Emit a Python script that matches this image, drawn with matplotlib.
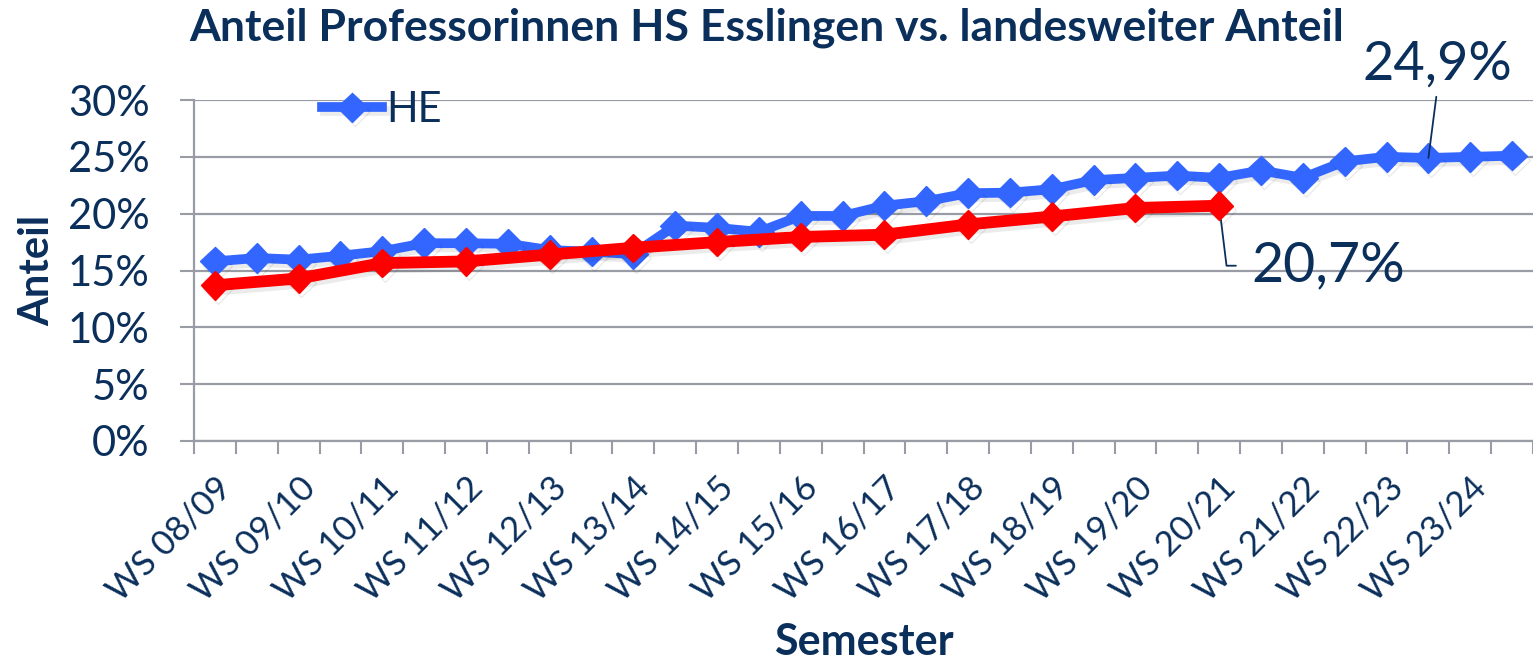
# Anteil Professorinnen: HS Esslingen (HE) vs. landesweiter Anteil
import matplotlib.pyplot as plt
import matplotlib.patheffects as pe

plt.rcParams['font.family'] = ['Lato', 'DejaVu Sans']

# all semesters on the x axis (only WS gets a label)
semester = ['WS 08/09', 'SS 09', 'WS 09/10', 'SS 10', 'WS 10/11', 'SS 11',
            'WS 11/12', 'SS 12', 'WS 12/13', 'SS 13', 'WS 13/14', 'SS 14',
            'WS 14/15', 'SS 15', 'WS 15/16', 'SS 16', 'WS 16/17', 'SS 17',
            'WS 17/18', 'SS 18', 'WS 18/19', 'SS 19', 'WS 19/20', 'SS 20',
            'WS 20/21', 'SS 21', 'WS 21/22', 'SS 22', 'WS 22/23', 'SS 23',
            'WS 23/24', 'SS 24']
# HS Esslingen, in percent
he = [15.8, 16.1, 15.95, 16.3, 16.7, 17.4, 17.4, 17.35, 16.8, 16.65,
      16.45, 18.95, 18.75, 18.4, 19.8, 19.8, 20.7, 21.1, 21.8, 21.85,
      22.15, 22.95, 23.15, 23.35, 23.15, 23.8, 23.15, 24.6, 25.0, 24.9,
      25.0, 25.1]
# landesweit, only winter semesters
land_sem = ['WS 08/09', 'WS 09/10', 'WS 10/11', 'WS 11/12', 'WS 12/13',
            'WS 13/14', 'WS 14/15', 'WS 15/16', 'WS 16/17', 'WS 17/18',
            'WS 18/19', 'WS 19/20', 'WS 20/21']
land = [13.7, 14.3, 15.65, 15.8, 16.4, 17.0, 17.5, 17.95, 18.15, 19.05,
        19.75, 20.5, 20.7]
y_ticks = [0, 5, 10, 15, 20, 25, 30]

navy = '#0b2f5b'
grey = '#9a9ca5'
shadow = [pe.SimpleLineShadow(offset=(2, -3), alpha=0.08), pe.Normal()]

fig = plt.figure(figsize=(15.33, 6.62), dpi=100)
ax = fig.add_axes([194 / 1533, 221 / 662, 1339 / 1533, 341 / 662])

x = list(range(len(semester)))
x_land = [semester.index(s) for s in land_sem]
ax.plot(x, he, color='#3366ff', lw=7, marker='D', ms=15, label='HE',
        zorder=3, path_effects=shadow)
ax.plot(x_land, land, color='#ff0000', lw=8.5, marker='D', ms=14.5,
        label='_nolegend_', zorder=4, path_effects=shadow)

ax.set_xlim(-0.5, 31.5)
ax.set_ylim(0, 30)

# y axis with grid
ax.set_yticks(y_ticks, [f'{v}%' for v in y_ticks])
ax.yaxis.grid(True, color=grey, lw=1.6)
ax.set_axisbelow(True)
ax.tick_params(axis='y', length=10, width=1.5, color=grey, pad=22,
               labelsize=30, labelcolor=navy)

# x axis: ticks between categories, labels only for WS
ax.set_xticks([i - 0.5 for i in range(len(semester) + 1)], [])
ax.tick_params(axis='x', which='major', length=9, width=1.5, color=grey)
ws = [i for i, s in enumerate(semester) if s.startswith('WS')]
ax.set_xticks(ws, [semester[i] for i in ws], minor=True)
ax.tick_params(axis='x', which='minor', length=0, pad=22, labelsize=25,
               labelcolor=navy)
for lab in ax.get_xticklabels(minor=True):
    lab.set_rotation(45)
    lab.set_ha('right')
    lab.set_va('top')
    lab.set_rotation_mode('anchor')

for s in ['top', 'right']:
    ax.spines[s].set_visible(False)
for s in ['left', 'bottom']:
    ax.spines[s].set_color(grey)
    ax.spines[s].set_linewidth(1.6)

ax.set_ylabel('Anteil', fontsize=30, weight='bold', color=navy)
ax.yaxis.set_label_coords(-0.103, 0.5)
ax.set_xlabel('Semester', fontsize=31, weight='bold', color=navy)
ax.xaxis.set_label_coords(0.5, -0.53)

fig.text(0.5, 1 - 28 / 662, 'Anteil Professorinnen HS Esslingen vs. landesweiter Anteil',
         ha='center', va='center', fontsize=32, weight='bold', color=navy)

ax.legend(loc='center left', bbox_to_anchor=(0.0955, 0.971), frameon=False,
          fontsize=30, labelcolor=navy, handlelength=1.45, handletextpad=0.1,
          borderpad=0, borderaxespad=0)

# data labels with leader lines
i_he = semester.index('SS 23')
ax.annotate('24,9%', xy=(i_he, he[i_he]), xytext=(9, 94),
            textcoords='offset pixels', ha='center', va='center',
            fontsize=39, color=navy,
            arrowprops=dict(arrowstyle='-', color=navy, lw=1.3,
                            relpos=(0.5, 0), shrinkA=4, shrinkB=0))
ax.annotate('20,7%', xy=(x_land[-1], land[-1]), xytext=(32, -60),
            textcoords='offset pixels', ha='left', va='center',
            fontsize=40, color=navy,
            arrowprops=dict(arrowstyle='-', color=navy, lw=1.3,
                            relpos=(0, 0.5), shrinkA=9, shrinkB=0,
                            connectionstyle='angle,angleA=180,angleB=-83,rad=0'))

fig.savefig('out.png', dpi=100)
